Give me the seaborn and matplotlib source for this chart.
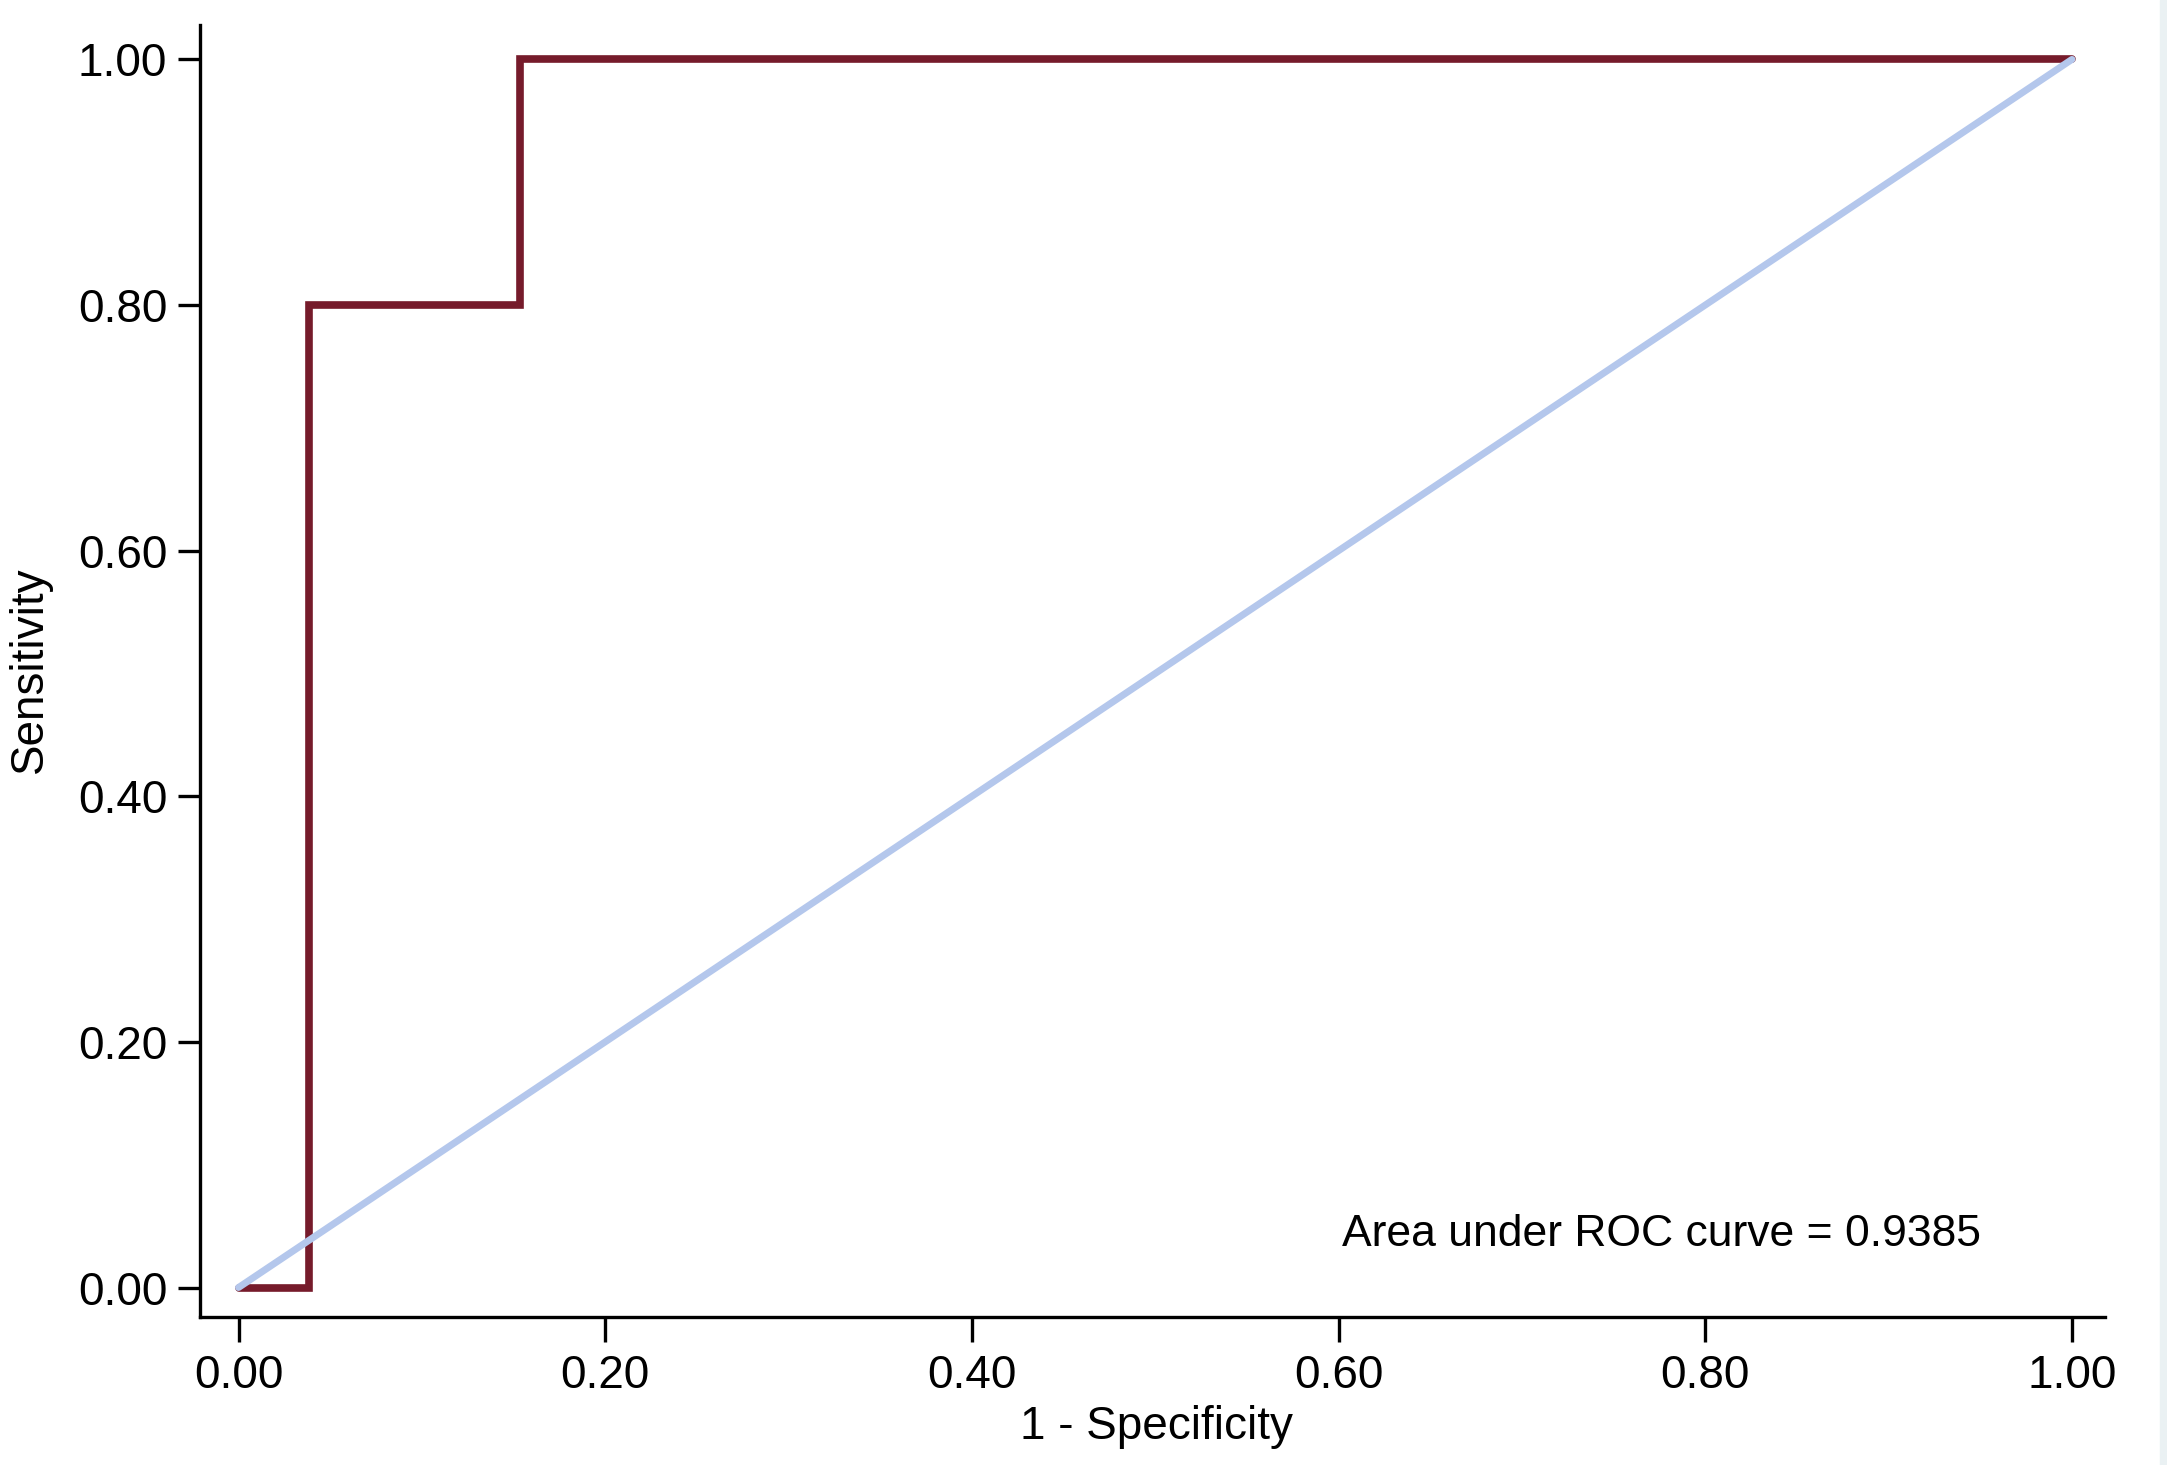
import matplotlib
matplotlib.use("Agg")
import matplotlib.pyplot as plt
import numpy as np
import pandas as pd
import seaborn as sns
from matplotlib.patches import Rectangle

# ROC curve (steps at 1/26 and 4/26)
fpr = [0.0, 0.0385, 0.0385, 0.1538, 0.1538, 1.0]
tpr = [0.0, 0.0, 0.80, 0.80, 1.0, 1.0]
ref_x = [0.0, 1.0]
ref_y = [0.0, 1.0]
auc_value = 0.9385
ticks = [0.0, 0.2, 0.4, 0.6, 0.8, 1.0]
tick_labels = ["0.00", "0.20", "0.40", "0.60", "0.80", "1.00"]

sns.set_style("white")
plt.rcParams["font.family"] = ["Liberation Sans", "DejaVu Sans"]
plt.rcParams["text.color"] = "black"

roc_color = "#761b2b"
ref_color = "#b4c7ec"

fig = plt.figure(figsize=(21.67, 14.65), dpi=100)
ax = fig.add_axes([200 / 2167, 1 - 1317 / 1465, (2105 - 200) / 2167, (1317 - 25) / 1465])

roc = pd.DataFrame({"fpr": fpr, "tpr": tpr})
ref = pd.DataFrame({"x": ref_x, "y": ref_y})

sns.lineplot(data=roc, x="fpr", y="tpr", sort=False, estimator=None,
             color=roc_color, linewidth=5.5, ax=ax, solid_joinstyle="miter")
sns.lineplot(data=ref, x="x", y="y", sort=False, estimator=None,
             color=ref_color, linewidth=5.0, ax=ax, solid_capstyle="round")

ax.set_xlim(-0.021, 1.018)
ax.set_ylim(-0.024, 1.028)
ax.set_xticks(ticks)
ax.set_xticklabels(tick_labels)
ax.set_yticks(ticks)
ax.set_yticklabels(tick_labels)
ax.set_xlabel("")
ax.set_ylabel("")

ax.tick_params(axis="both", direction="out", labelsize=33, width=2.4, color="black",
               labelcolor="black", left=True, bottom=True)
ax.tick_params(axis="y", length=15.5, pad=8)
ax.tick_params(axis="x", length=18, pad=9)

ax.spines[["top", "right"]].set_visible(False)
for side in ["left", "bottom"]:
    ax.spines[side].set_linewidth(2.4)
    ax.spines[side].set_color("black")

ax.text(0.602, 0.043, f"Area under ROC curve = {auc_value:.4f}",
        fontsize=32, ha="left", va="center", color="black")

fig.text(1157 / 2167, 38 / 1465, "1 - Specificity", fontsize=33, ha="center", va="center")
fig.text(30 / 2167, 1 - 670 / 1465, "Sensitivity", fontsize=33, ha="center", va="center",
         rotation=90)

# faint strip at the right edge of the image
fig.patches.append(Rectangle((2160 / 2167, 0), 7 / 2167, 1, transform=fig.transFigure,
                             color="#eaf1f3", zorder=0))

fig.savefig("out.png", dpi=100)
plt.close(fig)
